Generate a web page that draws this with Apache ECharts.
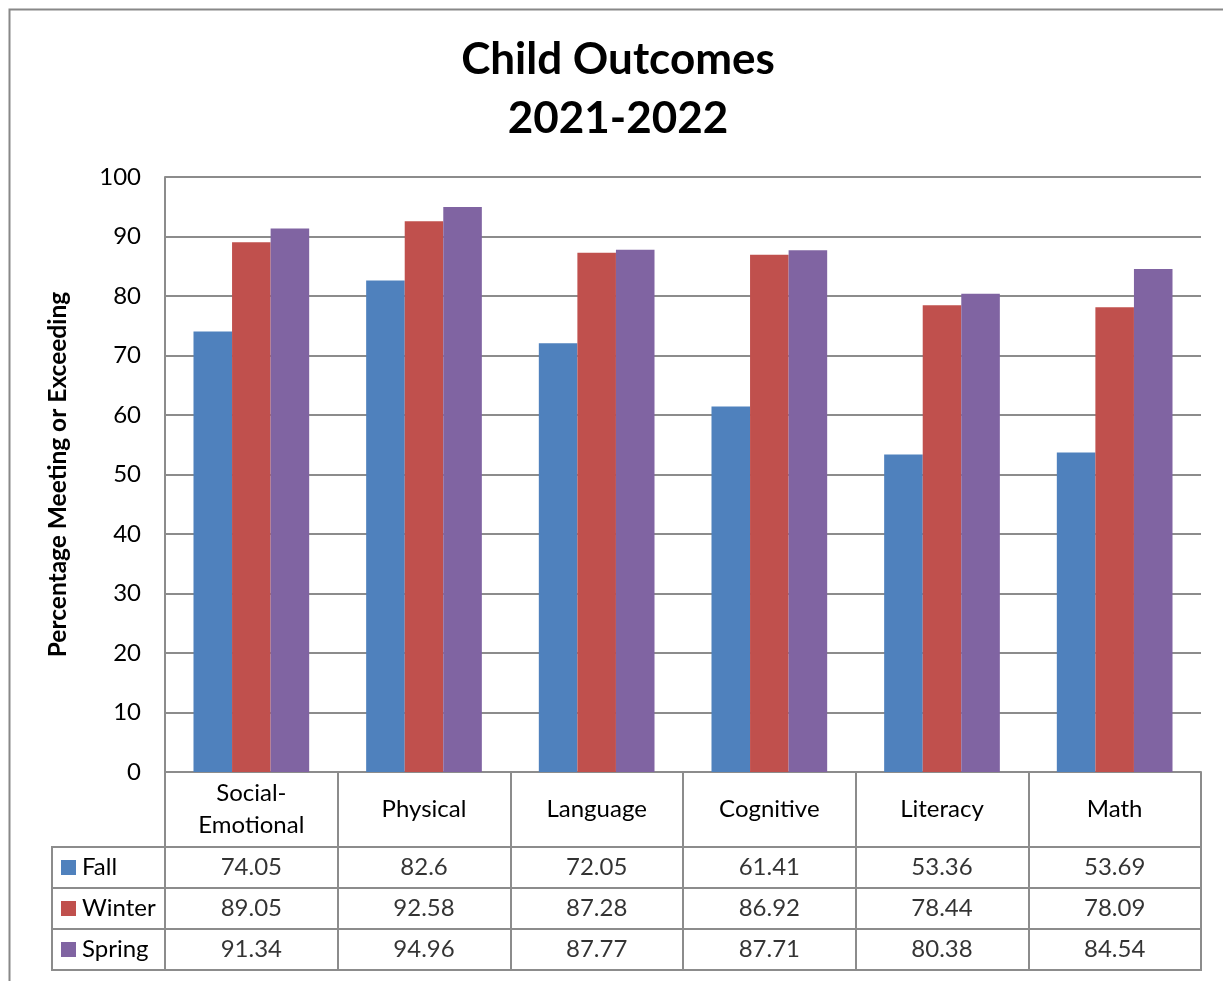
<!DOCTYPE html>
<html>
<head>
<meta charset="utf-8">
<script src="https://cdn.jsdelivr.net/npm/echarts@6/dist/echarts.min.js"></script>
<style>
html,body{margin:0;padding:0;background:#fff;}
#chart{width:1223px;height:981px;}
</style>
</head>
<body>
<div id="chart"></div>
<script>
const categories = ['Social-\nEmotional', 'Physical', 'Language', 'Cognitive', 'Literacy', 'Math'];
const seriesNames = ['Fall', 'Winter', 'Spring'];
const fall = [74.05, 82.6, 72.05, 61.41, 53.36, 53.69];
const winter = [89.05, 92.58, 87.28, 86.92, 78.44, 78.09];
const spring = [91.34, 94.96, 87.77, 87.71, 80.38, 84.54];
const yTicks = [0, 10, 20, 30, 40, 50, 60, 70, 80, 90, 100];
const colors = ['#4F81BD', '#C0504D', '#8064A2'];

const seriesValues = [fall, winter, spring];
const FONT = 'Lato';
const GRAY = '#8c8c8c';
const FS = 24;

const tableData = [];
seriesValues.forEach((vals, r) => {
  vals.forEach((v, c) => tableData.push([c, r, v]));
});

const rich = {};
colors.forEach((col, i) => {
  rich['k' + i] = {width: 15, height: 15, backgroundColor: col};
});
rich.t = {fontSize: FS, fontFamily: FONT, color: '#000', padding: [0, 0, 0, 6]};

const chart = echarts.init(document.getElementById('chart'), null, {renderer: 'canvas'});
chart.setOption({
  animation: false,
  backgroundColor: '#fff',
  textStyle: {fontFamily: FONT},
  title: {
    text: 'Child Outcomes\n2021-2022',
    left: 613, top: 25, textAlign: 'center',
    textStyle: {fontSize: 44, fontWeight: 'bold', lineHeight: 59, color: '#000', fontFamily: FONT}
  },
  graphic: [{
    type: 'rect', left: 7, top: 7, z: -10,
    shape: {width: 1300, height: 1100},
    style: {fill: 'none', stroke: '#888', lineWidth: 2}
  }],
  grid: [
    {left: 165, top: 177, width: 1036, height: 595},
    {left: 165, top: 847, width: 1036, height: 123, show: true, borderColor: GRAY, borderWidth: 2, backgroundColor: 'transparent'},
    {left: 52, top: 847, width: 113, height: 123, show: true, borderColor: GRAY, borderWidth: 2, backgroundColor: 'transparent'}
  ],
  xAxis: [
    {
      type: 'category', gridIndex: 0, data: categories,
      axisLine: {lineStyle: {color: GRAY, width: 2}},
      axisTick: {show: true, length: 198, lineStyle: {color: GRAY, width: 2}},
      axisLabel: {fontSize: FS, color: '#000', margin: 37, verticalAlign: 'middle', lineHeight: 32, fontFamily: FONT, interval: 0}
    },
    {type: 'category', gridIndex: 1, data: categories, show: false},
    {type: 'value', gridIndex: 2, show: false}
  ],
  yAxis: [
    {
      type: 'value', gridIndex: 0, min: yTicks[0], max: yTicks[yTicks.length - 1], interval: 10,
      name: 'Percentage Meeting or Exceeding', nameLocation: 'middle', nameRotate: 90, nameGap: 94,
      nameTextStyle: {fontSize: 24.5, fontWeight: 'bold', color: '#000', fontFamily: FONT},
      axisLine: {show: true, lineStyle: {color: GRAY, width: 2}},
      axisTick: {show: false},
      axisLabel: {fontSize: FS, color: '#000', margin: 24, fontFamily: FONT},
      splitLine: {lineStyle: {color: GRAY, width: 2}}
    },
    {
      type: 'category', gridIndex: 1, data: seriesNames, inverse: true,
      axisLine: {show: false},
      axisTick: {show: true, length: 113, lineStyle: {color: GRAY, width: 2}},
      splitLine: {show: true, lineStyle: {color: GRAY, width: 2}},
      axisLabel: {
        margin: 104, align: 'left',
        formatter: (v, i) => '{k' + i + '|}{t|' + v + '}',
        rich: rich
      }
    },
    {type: 'value', gridIndex: 2, show: false}
  ],
  series: [
    ...seriesNames.map((n, i) => ({
      name: n, type: 'bar', xAxisIndex: 0, yAxisIndex: 0,
      data: seriesValues[i],
      barGap: '0%', barCategoryGap: '33%',
      itemStyle: {color: colors[i]}
    })),
    {
      type: 'scatter', xAxisIndex: 1, yAxisIndex: 1,
      data: tableData, symbol: 'rect', symbolSize: 1,
      itemStyle: {color: 'rgba(0,0,0,0)'},
      label: {
        show: true, position: 'inside', fontSize: FS, color: '#000', fontFamily: FONT,
        formatter: p => String(p.value[2])
      },
      silent: true
    }
  ]
});
</script>
</body>
</html>
